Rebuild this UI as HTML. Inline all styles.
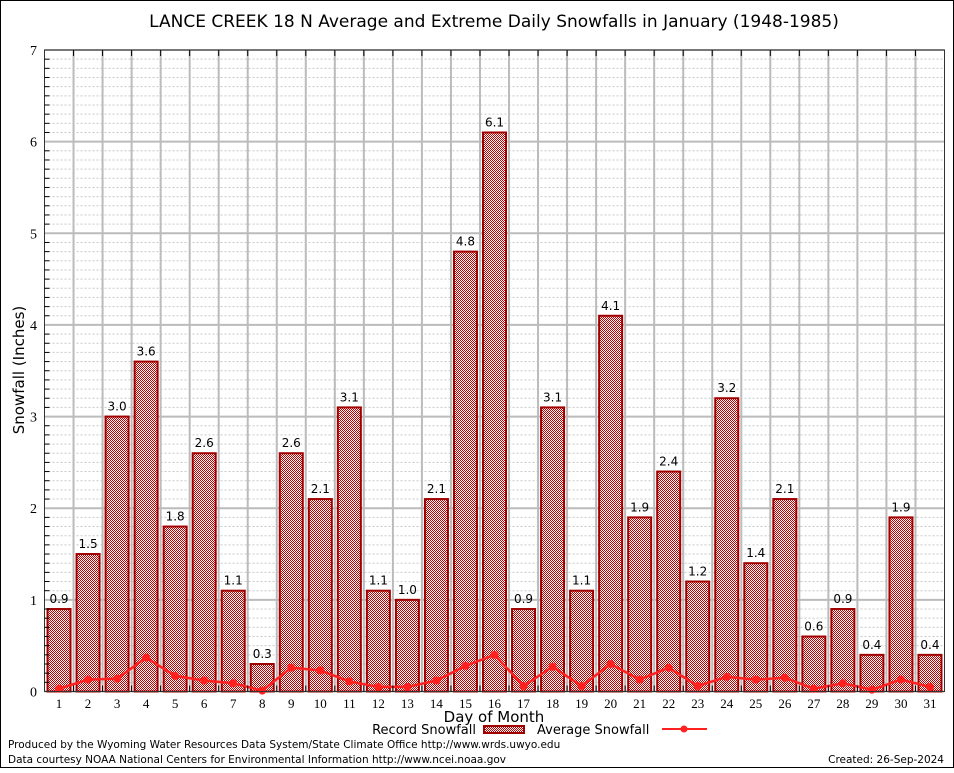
<!DOCTYPE html>
<html><head><meta charset="utf-8"><style>
body{margin:0;background:#fff}
</style></head><body>
<svg id="chart" width="954" height="768" xmlns="http://www.w3.org/2000/svg" font-family="DejaVu Sans, Liberation Sans, sans-serif">
<defs>
<pattern id="chk" width="2" height="2" patternUnits="userSpaceOnUse">
<rect width="2" height="2" fill="#fff" shape-rendering="crispEdges"/><rect width="1" height="1" fill="#c00000" shape-rendering="crispEdges"/><rect x="1" y="1" width="1" height="1" fill="#c00000" shape-rendering="crispEdges"/>
</pattern>
</defs>
<rect x="0.5" y="0.5" width="953" height="767" fill="#fff" stroke="#000"/>
<text x="494" y="27" font-size="17" text-anchor="middle">LANCE CREEK 18 N Average and Extreme Daily Snowfalls in January (1948-1985)</text>
<g id="grid"></g>
<g id="bars"></g>
<g id="avg"></g>
<rect x="44.5" y="50" width="900" height="641.5" fill="none" stroke="#333"/>
<g id="axes"></g>
<text x="24" y="370" font-size="15" text-anchor="middle" transform="rotate(-90 24 370)">Snowfall (Inches)</text>
<text x="494" y="722" font-size="15" text-anchor="middle">Day of Month</text>
<g>
<text x="476" y="734" font-size="13" text-anchor="end">Record Snowfall</text>
<rect x="484" y="726" width="40" height="7" fill="url(#chk)" stroke="#a00000" stroke-width="2"/>
</g>
<g>
<text x="537" y="734" font-size="13">Average Snowfall</text>
<line x1="662" y1="729" x2="707" y2="729" stroke="#ff2020" stroke-width="2"/>
<circle cx="684" cy="729" r="3.5" fill="#ff2020"/>
</g>
<text x="8" y="748" font-size="10.5">Produced by the Wyoming Water Resources Data System/State Climate Office http://www.wrds.uwyo.edu</text>
<text x="8" y="763" font-size="10.5">Data courtesy NOAA National Centers for Environmental Information http://www.ncei.noaa.gov</text>
<text x="944" y="763" font-size="10.5" text-anchor="end">Created: 26-Sep-2024</text>
</svg>
<script>
const days=[1,2,3,4,5,6,7,8,9,10,11,12,13,14,15,16,17,18,19,20,21,22,23,24,25,26,27,28,29,30,31];
const recordValues=[0.9,1.5,3.0,3.6,1.8,2.6,1.1,0.3,2.6,2.1,3.1,1.1,1.0,2.1,4.8,6.1,0.9,3.1,1.1,4.1,1.9,2.4,1.2,3.2,1.4,2.1,0.6,0.9,0.4,1.9,0.4];
const averageValues=[0.03,0.13,0.14,0.37,0.17,0.12,0.09,0.01,0.26,0.23,0.11,0.05,0.05,0.12,0.28,0.40,0.06,0.27,0.06,0.30,0.13,0.26,0.06,0.16,0.13,0.15,0.03,0.09,0.02,0.13,0.05];
const yTicks=[0,1,2,3,4,5,6,7];
const NS='http://www.w3.org/2000/svg';
const X0=44.5,X1=944.5,Y0=691.5,Y1=50,YMAX=7;
const bw=(X1-X0)/days.length;
const xs=d=>X0+(d-0.5)*bw;
const ys=v=>Y0-v/YMAX*(Y0-Y1);
function mk(tag,attrs,parent){const e=document.createElementNS(NS,tag);for(const k in attrs)e.setAttribute(k,attrs[k]);parent.appendChild(e);return e;}
const grid=document.getElementById('grid'),bars=document.getElementById('bars'),avg=document.getElementById('avg'),axes=document.getElementById('axes');
for(let i=0;i<YMAX*10;i++){const v=i/10;if(i%10===0)continue;
 const l=mk('line',{x1:X0,x2:X1,y1:ys(v),y2:ys(v),stroke:'#c8c8c8','stroke-dasharray':'2,2','stroke-width':1},grid);
 
 
 const t=mk('line',{x1:X0,x2:X0+5,y1:ys(v),y2:ys(v),stroke:'#000'},axes);
 
 }
yTicks.forEach(v=>{
 const l=mk('line',{x1:X0,x2:X1,y1:ys(v),y2:ys(v),stroke:'#bbb','stroke-width':2},grid);
 
 
 const t=mk('text',{x:37,y:ys(v)+5,'font-size':14,'text-anchor':'end','font-family':'Liberation Serif, serif'},axes);t.textContent=v;
 
 });
for(let i=1;i<days.length;i++){const x=X0+i*bw;
 const l=mk('line',{x1:x,x2:x,y1:Y1,y2:Y0,stroke:'#bbb','stroke-width':2},grid);
 
 
 const t=mk('line',{x1:x,x2:x,y1:Y1,y2:Y1+6,stroke:'#000'},axes);
 const t2=mk('line',{x1:x,x2:x,y1:Y0-6,y2:Y0,stroke:'#000'},axes);}
days.forEach((d,i)=>{
 const v=recordValues[i],cx=xs(d);
 const r=mk('rect',{x:cx-11.5,y:ys(v),width:23,height:Y0-ys(v),fill:'url(#chk)',stroke:'#a00000','stroke-width':2},bars);
 
 
 const t=mk('text',{x:cx,y:ys(v)-6,'font-size':12,'text-anchor':'middle'},bars);t.textContent=v.toFixed(1);
 
 
 const xl=mk('text',{x:cx,y:708,'font-size':13,'text-anchor':'middle','font-family':'Liberation Serif, serif'},axes);xl.textContent=d;
 
 });
const pts=days.map((d,i)=>xs(d)+','+ys(averageValues[i])).join(' ');
const pl=mk('polyline',{points:pts,fill:'none',stroke:'#ff2020','stroke-width':2.5},avg);


days.forEach((d,i)=>{const c=mk('circle',{cx:xs(d),cy:ys(averageValues[i]),r:4,fill:'#ff2020'},avg);
 
 });
</script>
</body></html>
